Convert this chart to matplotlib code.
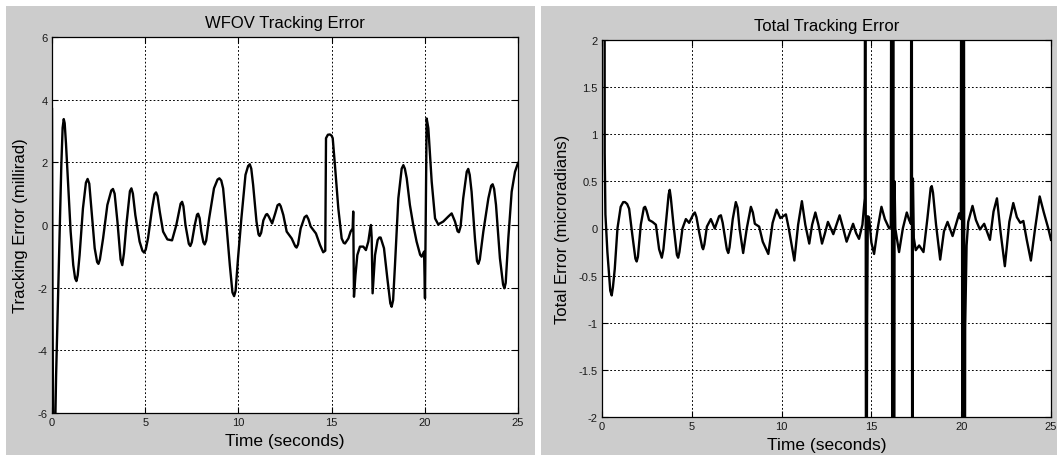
import matplotlib
matplotlib.use('Agg')
import matplotlib.pyplot as plt
from matplotlib.patches import Rectangle

plt.rcParams['font.family'] = ['Liberation Sans', 'DejaVu Sans']

# WFOV tracking error (millirad)
wfov_t = [0.00, 0.03, 0.06, 0.17, 0.22, 0.27, 0.32, 0.41, 0.50, 0.57, 0.63, 0.68, 0.75, 0.86,
          1.00, 1.14, 1.24, 1.31, 1.38, 1.48, 1.66, 1.82, 1.91, 2.00, 2.11, 2.29, 2.42, 2.49,
          2.57, 2.74, 2.97, 3.18, 3.27, 3.36, 3.51, 3.68, 3.77, 3.86, 3.99, 4.18, 4.26, 4.34,
          4.47, 4.70, 4.85, 4.94, 5.03, 5.15, 5.37, 5.50, 5.58, 5.66, 5.78, 5.96, 6.19, 6.44,
          6.67, 6.90, 6.98, 7.05, 7.16, 7.34, 7.42, 7.50, 7.66, 7.78, 7.84, 7.92, 8.01, 8.12,
          8.19, 8.27, 8.43, 8.69, 8.88, 8.98, 9.08, 9.18, 9.36, 9.54, 9.68, 9.77, 9.85, 9.98,
          10.16, 10.38, 10.52, 10.61, 10.69, 10.79, 10.97, 11.08, 11.14, 11.22, 11.34, 11.48,
          11.54, 11.62, 11.81, 11.98, 12.10, 12.20, 12.27, 12.41, 12.59, 12.86, 13.05, 13.12,
          13.20, 13.34, 13.55, 13.66, 13.76, 13.88, 14.16, 14.38, 14.55, 14.66, 14.70, 14.80,
          14.91, 15.00, 15.06, 15.18, 15.36, 15.54, 15.65, 15.72, 15.90, 16.02, 16.13, 16.16,
          16.20, 16.28, 16.38, 16.52, 16.70, 16.84, 16.97, 17.06, 17.11, 17.15, 17.20, 17.33,
          17.47, 17.56, 17.63, 17.81, 17.99, 18.15, 18.22, 18.30, 18.40, 18.58, 18.76, 18.85,
          18.93, 19.03, 19.20, 19.38, 19.56, 19.75, 19.83, 19.96, 20.01, 20.10, 20.19, 20.37,
          20.55, 20.72, 20.99, 21.26, 21.44, 21.62, 21.76, 21.83, 21.92, 22.06, 22.25, 22.33,
          22.41, 22.51, 22.69, 22.80, 22.87, 22.95, 23.14, 23.41, 23.56, 23.64, 23.72, 23.82,
          24.03, 24.20, 24.27, 24.34, 24.48, 24.66, 24.84, 25.00]
wfov_err = [3.70, -3.00, -6.50, -6.50, -4.80, -3.60, -2.34, -0.21, 1.91, 3.10, 3.38, 3.25, 2.60, 1.38,
            -0.21, -1.28, -1.70, -1.79, -1.60, -0.96, 0.53, 1.35, 1.47, 1.32, 0.53, -0.74, -1.18, -1.24,
            -1.10, -0.43, 0.64, 1.10, 1.15, 1.00, 0.11, -1.10, -1.28, -0.90, 0.00, 1.08, 1.17, 1.00,
            0.32, -0.53, -0.82, -0.88, -0.78, -0.43, 0.53, 0.98, 1.04, 0.93, 0.43, -0.21, -0.46, -0.49,
            0.00, 0.68, 0.74, 0.60, 0.00, -0.60, -0.67, -0.55, 0.00, 0.33, 0.36, 0.22, -0.21, -0.55,
            -0.62, -0.50, 0.21, 1.17, 1.45, 1.49, 1.42, 1.17, 0.00, -1.28, -2.15, -2.27, -2.10, -1.06,
            0.21, 1.60, 1.88, 1.94, 1.80, 1.28, 0.11, -0.30, -0.35, -0.25, 0.15, 0.33,
            0.35, 0.28, 0.05, 0.38, 0.63, 0.67, 0.60, 0.32, -0.21, -0.43, -0.68, -0.72,
            -0.62, -0.11, 0.25, 0.30, 0.18, -0.05, -0.27, -0.64, -0.87, -0.82, 2.77, 2.88,
            2.89, 2.85, 2.77, 1.90, 0.53, -0.43, -0.57, -0.59, -0.43, -0.21, -0.11, 0.43,
            -2.29, -1.60, -0.96, -0.69, -0.69, -0.80, -0.53, -0.16, 0.00, -0.40, -2.18, -0.96,
            -0.48, -0.40, -0.40, -0.74, -1.70, -2.50, -2.61, -2.40, -1.28, 0.85, 1.80, 1.91,
            1.80, 1.49, 0.64, 0.00, -0.53, -0.95, -1.01, -0.85, -2.34, 3.40, 3.09, 1.38,
            0.21, 0.02, 0.11, 0.27, 0.37, 0.11, -0.20, -0.23, -0.05, 0.85, 1.70, 1.79,
            1.60, 1.06, -0.43, -1.15, -1.24, -1.10, -0.21, 0.85, 1.25, 1.30, 1.15, 0.64,
            -1.06, -1.90, -2.02, -1.85, -0.43, 1.06, 1.70, 1.98]

# Total tracking error (microradians)
total_t = [0.00, 0.14, 0.15, 0.19, 0.30, 0.46, 0.54, 0.61, 0.71, 0.86, 1.04, 1.18, 1.28, 1.40,
           1.51, 1.69, 1.86, 1.93, 2.00, 2.16, 2.33, 2.40, 2.48, 2.62, 2.81, 3.00, 3.18, 3.33,
           3.42, 3.55, 3.71, 3.77, 3.83, 3.98, 4.17, 4.24, 4.31, 4.48, 4.67, 4.85, 5.08, 5.17,
           5.26, 5.41, 5.58, 5.63, 5.70, 5.84, 6.06, 6.28, 6.52, 6.62, 6.72, 6.95, 7.03, 7.10,
           7.28, 7.45, 7.55, 7.66, 7.86, 8.06, 8.29, 8.40, 8.51, 8.75, 8.95, 9.26, 9.50, 9.72,
           9.93, 10.24, 10.40, 10.71, 10.92, 11.13, 11.32, 11.54, 11.70, 11.88, 12.05, 12.25,
           12.40, 12.58, 12.88, 13.23, 13.43, 13.62, 13.98, 14.15, 14.31, 14.50, 14.63, 14.66,
           14.71, 14.76, 14.80, 14.87, 15.00, 15.15, 15.35, 15.56, 15.75, 15.99, 16.08, 16.13,
           16.17, 16.21, 16.26, 16.29, 16.33, 16.54, 16.75, 16.97, 17.10, 17.20, 17.24, 17.28,
           17.31, 17.36, 17.47, 17.66, 17.90, 18.12, 18.30, 18.36, 18.43, 18.60, 18.83, 19.04,
           19.24, 19.52, 19.89, 19.98, 20.02, 20.08, 20.14, 20.19, 20.22, 20.30, 20.39, 20.63,
           20.82, 21.04, 21.28, 21.60, 21.80, 21.99, 22.20, 22.43, 22.68, 22.90, 23.10, 23.29,
           23.46, 23.65, 23.88, 24.10, 24.37, 24.60, 24.85, 25.00]
total_err = [5.00, 5.00, 0.80, 0.15, -0.25, -0.66, -0.71, -0.62, -0.43, 0.00, 0.23, 0.28, 0.28, 0.26,
             0.21, -0.07, -0.32, -0.35, -0.30, 0.04, 0.22, 0.23, 0.19, 0.09, 0.07, 0.04, -0.22, -0.31,
             -0.22, 0.04, 0.36, 0.41, 0.33, 0.04, -0.28, -0.31, -0.25, 0.00, 0.10, 0.06, 0.15, 0.17,
             0.12, -0.04, -0.20, -0.22, -0.17, 0.02, 0.10, 0.00, 0.13, 0.14, 0.06, -0.22, -0.26, -0.20,
             0.10, 0.28, 0.22, 0.00, -0.26, 0.00, 0.23, 0.17, 0.05, 0.02, -0.14, -0.27, 0.06, 0.20,
             0.11, 0.15, 0.00, -0.34, 0.04, 0.29, 0.04, -0.16, 0.04, 0.17, 0.04, -0.16,
             -0.06, 0.07, -0.06, 0.14, 0.00, -0.14, 0.05, -0.05, -0.11, 0.04, 0.32, 6.00,
             -6.00, -1.00, 0.13, 0.12, -0.15, -0.27, 0.00, 0.23, 0.10, 0.00, 0.02, 6.00,
             -6.00, 6.00, -6.00, 0.50, 0.00, -0.25, 0.00, 0.17, 0.09, 0.05, 6.00, -6.00,
             0.53, -0.10, -0.23, -0.18, -0.25, 0.11, 0.43, 0.45, 0.38, 0.04, -0.33, -0.03,
             0.07, -0.08, 0.16, 0.10, 6.00, -6.00, 6.00, -6.00, -1.05, -0.18, 0.07, 0.24,
             0.09, -0.01, 0.05, -0.12, 0.18, 0.32, -0.05, -0.40, 0.07, 0.27, 0.12, 0.06,
             0.08, -0.12, -0.34, -0.02, 0.34, 0.17, 0.00, -0.12]

x_ticks = [0, 5, 10, 15, 20, 25]
wfov_yticks = [-6, -4, -2, 0, 2, 4, 6]
total_yticks = [-2, -1.5, -1, -0.5, 0, 0.5, 1, 1.5, 2]

GRAY = '#cccccc'

fig = plt.figure(figsize=(10.57, 4.56), dpi=100, facecolor='white')
# the two matlab figure windows
fig.add_artist(Rectangle((6 / 1057, 0), 529 / 1057, 449 / 456, transform=fig.transFigure,
                         facecolor=GRAY, edgecolor='none', zorder=-10))
fig.add_artist(Rectangle((541 / 1057, 0), 516 / 1057, 449 / 456, transform=fig.transFigure,
                         facecolor=GRAY, edgecolor='none', zorder=-10))

ax1 = fig.add_axes([52 / 1057, 42 / 456, 466 / 1057, 376 / 456])
ax2 = fig.add_axes([602 / 1057, 38 / 456, 449 / 1057, 377 / 456])


def style_axes(ax, yticks, ylim):
    ax.set_facecolor('white')
    ax.set_xlim(0, 25)
    ax.set_ylim(*ylim)
    ax.set_xticks(x_ticks)
    ax.set_yticks(yticks)
    ax.set_yticklabels(['%g' % v for v in yticks])
    ax.grid(True, color='black', linestyle=(0, (1.8, 2.2)), linewidth=0.7)
    ax.tick_params(direction='in', length=4, width=0.8, top=True, right=True,
                   labelsize=8, labelcolor='#1a1a1a', pad=3)
    for s in ax.spines.values():
        s.set_linewidth(0.9)
        s.set_color('black')


ax1.plot(wfov_t, wfov_err, color='black', linewidth=1.7)
style_axes(ax1, wfov_yticks, (-6, 6))
ax1.set_title('WFOV Tracking Error', fontsize=12, pad=7)
ax1.set_xlabel('Time (seconds)', fontsize=12.5, labelpad=4)
ax1.set_ylabel('Tracking Error (millirad)', fontsize=12, labelpad=7)

ax2.plot(total_t, total_err, color='black', linewidth=1.7)
style_axes(ax2, total_yticks, (-2, 2))
ax2.set_title('Total Tracking Error', fontsize=12, pad=7)
ax2.set_xlabel('Time (seconds)', fontsize=12.5, labelpad=4)
ax2.set_ylabel('Total Error (microradians)', fontsize=12, labelpad=6)

fig.savefig('out.png', dpi=100, facecolor='white')
